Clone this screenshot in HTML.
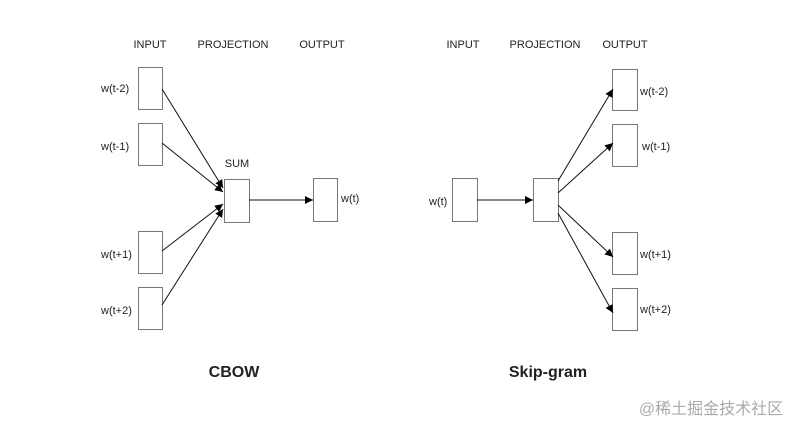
<!DOCTYPE html>
<html><head><meta charset="utf-8"><style>
html,body{margin:0;padding:0;background:#fff;}
svg{display:block;}
text{font-family:"Liberation Sans",Arial,sans-serif;fill:#222;}
</style></head><body>
<svg width="797" height="423" viewBox="0 0 797 423" xmlns="http://www.w3.org/2000/svg">
<defs>
<marker id="a" viewBox="0 0 10 10" refX="10" refY="5" markerWidth="10" markerHeight="8" markerUnits="userSpaceOnUse" orient="auto">
<path d="M0,0 L10,5 L0,10 z" fill="#000"/>
</marker>
</defs>
<g font-size="11" text-anchor="middle">
<text x="150" y="48">INPUT</text>
<text x="233" y="48">PROJECTION</text>
<text x="322" y="48">OUTPUT</text>
<text x="463" y="48">INPUT</text>
<text x="545" y="48">PROJECTION</text>
<text x="625" y="48">OUTPUT</text>
<text x="237" y="167">SUM</text>
</g>
<g fill="#fff" stroke="#777" stroke-width="1">
<rect x="138.5" y="67.5" width="24" height="42"/>
<rect x="138.5" y="123.5" width="24" height="42"/>
<rect x="138.5" y="231.5" width="24" height="42"/>
<rect x="138.5" y="287.5" width="24" height="42"/>
<rect x="224.5" y="179.5" width="25" height="43"/>
<rect x="313.5" y="178.5" width="24" height="43"/>
<rect x="452.5" y="178.5" width="25" height="43"/>
<rect x="533.5" y="178.5" width="25" height="43"/>
<rect x="612.5" y="69.5" width="25" height="41"/>
<rect x="612.5" y="124.5" width="25" height="42"/>
<rect x="612.5" y="232.5" width="25" height="42"/>
<rect x="612.5" y="288.5" width="25" height="42"/>
</g>
<g stroke="#111" stroke-width="1" marker-end="url(#a)">
<line x1="162" y1="89" x2="223" y2="188"/>
<line x1="162" y1="143" x2="223" y2="192"/>
<line x1="162" y1="251" x2="223" y2="204"/>
<line x1="162" y1="305" x2="223" y2="209"/>
<line x1="249" y1="200" x2="313" y2="200"/>
<line x1="477" y1="200" x2="533" y2="200"/>
<line x1="558" y1="181" x2="613" y2="89"/>
<line x1="558" y1="193" x2="613" y2="143"/>
<line x1="558" y1="205" x2="613" y2="257"/>
<line x1="558" y1="213" x2="613" y2="313"/>
</g>
<g font-size="11">
<text x="101" y="92">w(t-2)</text>
<text x="101" y="150">w(t-1)</text>
<text x="101" y="258">w(t+1)</text>
<text x="101" y="314">w(t+2)</text>
<text x="341" y="202">w(t)</text>
<text x="429" y="205">w(t)</text>
<text x="640" y="95">w(t-2)</text>
<text x="642" y="150">w(t-1)</text>
<text x="640" y="258">w(t+1)</text>
<text x="640" y="313">w(t+2)</text>
</g>
<g font-size="16" font-weight="bold" text-anchor="middle">
<text x="234" y="377">CBOW</text>
<text x="548" y="377">Skip-gram</text>
</g>
<text x="711" y="414" font-size="16" text-anchor="middle" style="fill:#aaa;font-family:'Liberation Sans','Noto Sans CJK SC',sans-serif;">@稀土掘金技术社区</text>
</svg>
</body></html>
